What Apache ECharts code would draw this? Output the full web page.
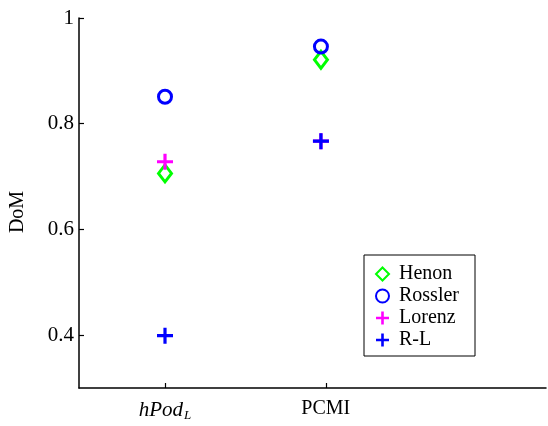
<!DOCTYPE html>
<html>
<head>
<meta charset="utf-8">
<script src="https://cdn.jsdelivr.net/npm/echarts@6/dist/echarts.min.js"></script>
<style>
  html, body { margin: 0; padding: 0; background: #fff; }
  #chart { width: 548px; height: 426px; }
</style>
</head>
<body>
<div id="chart"></div>
<script>
// categories sit at x = 1 and x = 2 (PCMI points drawn a hair left of the tick, as in the original)
var categories = ['hPod', 'PCMI']
var catX = [1, 1.97]
var henon = [0.706, 0.921]
var rossler = [0.851, 0.946]
var lorenz = [0.728, 0.767]
var rl = [0.399, 0.767]
var yTicks = [0.4, 0.6, 0.8, 1]

// filled cross used as a "+" marker
var plus = 'path://M6,0h3v6h6v3h-6v6h-3v-6h-6v-3h6z'

function pts(vals) {
  return vals.map(function (v, i) { return [catX[i], v] })
}

var serif = 'Liberation Serif, Times New Roman, serif'
var chart = echarts.init(document.getElementById('chart'))
chart.setOption({
  animation: false,
  grid: { left: 79, right: 2, top: 18, bottom: 38 },
  graphic: [{
    type: 'text',
    x: 18,
    y: 212,
    rotation: Math.PI / 2,
    style: { text: 'DoM', font: '20px ' + serif, fill: '#000', align: 'center', verticalAlign: 'middle' }
  }],
  legend: {
    orient: 'vertical',
    left: 364,
    top: 255,
    padding: [9, 16, 6, 11],
    itemGap: 2,
    itemWidth: 13,
    itemHeight: 13,
    borderColor: '#000',
    borderWidth: 1,
    textStyle: { fontFamily: serif, fontSize: 20, color: '#000', padding: [0, 0, 0, 5] },
    data: ['Henon', 'Rossler', 'Lorenz', 'R-L']
  },
  xAxis: {
    type: 'value',
    min: 0.465,
    max: 3.37,
    splitLine: { show: false },
    axisLine: { lineStyle: { color: '#000', width: 1.5 } },
    axisTick: { inside: true, length: 5, customValues: [1, 2], lineStyle: { color: '#000', width: 1.2 } },
    axisLabel: {
      customValues: [1, 2],
      margin: 11,
      formatter: function (v) {
        if (v === 1) return '{i|hPod}{s|L}'
        return '{n|PCMI}'
      },
      rich: {
        i: { fontFamily: serif, fontStyle: 'italic', fontSize: 21, color: '#000' },
        s: { fontFamily: serif, fontStyle: 'italic', fontSize: 13, color: '#000', verticalAlign: 'bottom', padding: [10, 0, 0, 1] },
        n: { fontFamily: serif, fontSize: 20, color: '#000' }
      }
    }
  },
  yAxis: {
    type: 'value',
    min: 0.3,
    max: 1,
    splitLine: { show: false },
    axisLine: { lineStyle: { color: '#000', width: 1.5 } },
    axisTick: { inside: true, length: 5, customValues: yTicks, lineStyle: { color: '#000', width: 1.2 } },
    axisLabel: {
      customValues: yTicks,
      margin: 5,
      fontFamily: serif,
      fontSize: 21,
      color: '#000'
    }
  },
  series: [
    {
      name: 'Henon', type: 'scatter', data: pts(henon),
      symbol: 'diamond', symbolSize: [13, 17],
      itemStyle: { color: 'rgba(0,0,0,0)', borderColor: '#00ff00', borderWidth: 3, opacity: 1 }
    },
    {
      name: 'Rossler', type: 'scatter', data: pts(rossler),
      symbol: 'circle', symbolSize: 13,
      itemStyle: { color: 'rgba(0,0,0,0)', borderColor: '#0000ff', borderWidth: 3, opacity: 1 }
    },
    {
      name: 'Lorenz', type: 'scatter', data: pts(lorenz),
      symbol: plus, symbolSize: 16,
      itemStyle: { color: '#ff00ff', opacity: 1 }
    },
    {
      name: 'R-L', type: 'scatter', data: pts(rl),
      symbol: plus, symbolSize: 16,
      itemStyle: { color: '#0000ff', opacity: 1 }
    }
  ]
})
</script>
</body>
</html>
